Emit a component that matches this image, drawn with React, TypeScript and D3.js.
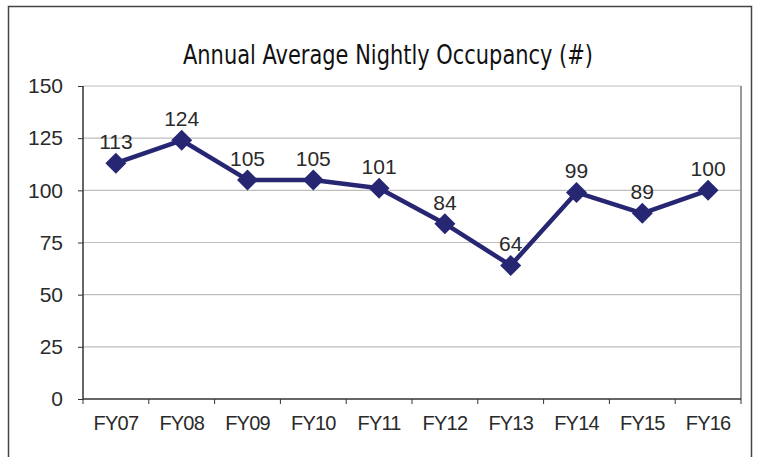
import { useEffect, useRef } from 'react';
import * as d3 from 'd3';

const categories = ['FY07', 'FY08', 'FY09', 'FY10', 'FY11', 'FY12', 'FY13', 'FY14', 'FY15', 'FY16'];
const occupancy = [113, 124, 105, 105, 101, 84, 64, 99, 89, 100];
const yTicks = [0, 25, 50, 75, 100, 125, 150];
const title = 'Annual Average Nightly Occupancy (#)';

const App = () => {
    const ref = useRef<SVGSVGElement>(null);

    useEffect(() => {
        const width = 758;
        const height = 457;
        const left = 83;
        const right = 741;
        const top = 86;
        const bottom = 399;
        const navy = '#262673';
        const font = 'Liberation Sans, Arial, sans-serif';

        const svg = d3.select(ref.current);
        svg.selectAll('*').remove();
        svg.attr('width', width).attr('height', height);

        // outer frame
        svg.append('rect')
            .attr('x', 8.5).attr('y', 6.5)
            .attr('width', 743).attr('height', 470)
            .attr('fill', '#fff')
            .attr('stroke', '#444')
            .attr('stroke-width', 1.5);

        // condensed title: squeeze to the reference width
        svg.append('text')
            .attr('x', 183).attr('y', 64)
            .attr('font-family', '"DejaVu Sans", sans-serif')
            .attr('font-size', 26)
            .attr('textLength', 410)
            .attr('lengthAdjust', 'spacingAndGlyphs')
            .attr('fill', '#111')
            .text(title);

        const x = d3.scaleBand().domain(categories).range([left, right]);
        const y = d3.scaleLinear().domain([0, 150]).range([bottom, top]);

        // gridlines
        svg.append('g')
            .selectAll('line')
            .data(yTicks.filter(d => d > 0))
            .join('line')
            .attr('x1', left).attr('x2', right)
            .attr('y1', d => y(d)).attr('y2', d => y(d))
            .attr('stroke', '#bdbdbd')
            .attr('stroke-width', 1.2);

        // plot area right border
        svg.append('line')
            .attr('x1', right).attr('x2', right)
            .attr('y1', top).attr('y2', bottom)
            .attr('stroke', '#999').attr('stroke-width', 2);

        svg.append('g')
            .attr('transform', `translate(${left},0)`)
            .call(d3.axisLeft(y).tickValues(yTicks).tickSize(5).tickPadding(15))
            .call(g => g.select('.domain').attr('stroke', '#333').attr('stroke-width', 1.5).attr('d', `M0,${top}V${bottom}`))
            .call(g => g.selectAll('.tick line').attr('stroke', '#333'))
            .call(g => g.selectAll('.tick text')
                .attr('font-family', font).attr('font-size', 21).attr('fill', '#2a2a2a'));

        const xAxis = d3.axisBottom(x).tickSize(0).tickPadding(17);
        const gx = svg.append('g')
            .attr('transform', `translate(0,${bottom})`)
            .call(xAxis)
            .call(g => g.select('.domain').attr('stroke', '#333').attr('stroke-width', 1.5).attr('d', `M${left},0H${right}`))
            .call(g => g.selectAll('.tick text')
                .attr('font-family', font).attr('font-size', 20)
                .attr('letter-spacing', -0.8).attr('fill', '#2a2a2a'));

        // category boundary ticks
        gx.append('g')
            .selectAll('line')
            .data(categories.map(c => x(c)!).concat([right]))
            .join('line')
            .attr('x1', d => d).attr('x2', d => d)
            .attr('y1', 0).attr('y2', 5)
            .attr('stroke', '#333');

        const cx = (c: string) => x(c)! + x.bandwidth() / 2;
        const pts = categories.map((c, i) => ({ c, v: occupancy[i] }));

        const line = d3.line<{ c: string; v: number }>()
            .x(d => cx(d.c))
            .y(d => y(d.v));

        svg.append('path')
            .datum(pts)
            .attr('d', line)
            .attr('fill', 'none')
            .attr('stroke', navy)
            .attr('stroke-width', 4.5)
            .attr('stroke-linejoin', 'round');

        svg.append('g')
            .selectAll('path')
            .data(pts)
            .join('path')
            .attr('transform', d => `translate(${cx(d.c)},${y(d.v)}) rotate(45)`)
            .attr('d', d3.symbol().type(d3.symbolSquare).size(220)())
            .attr('fill', navy);

        svg.append('g')
            .selectAll('text')
            .data(pts)
            .join('text')
            .attr('x', d => cx(d.c))
            .attr('y', d => y(d.v) - 14)
            .attr('text-anchor', 'middle')
            .attr('font-family', font)
            .attr('font-size', 21)
            .attr('fill', '#2a2a2a')
            .text(d => d.v);
    }, []);

    return <svg ref={ref} style={{ position: 'absolute', left: 0, top: 0 }} />;
};

export default App;
